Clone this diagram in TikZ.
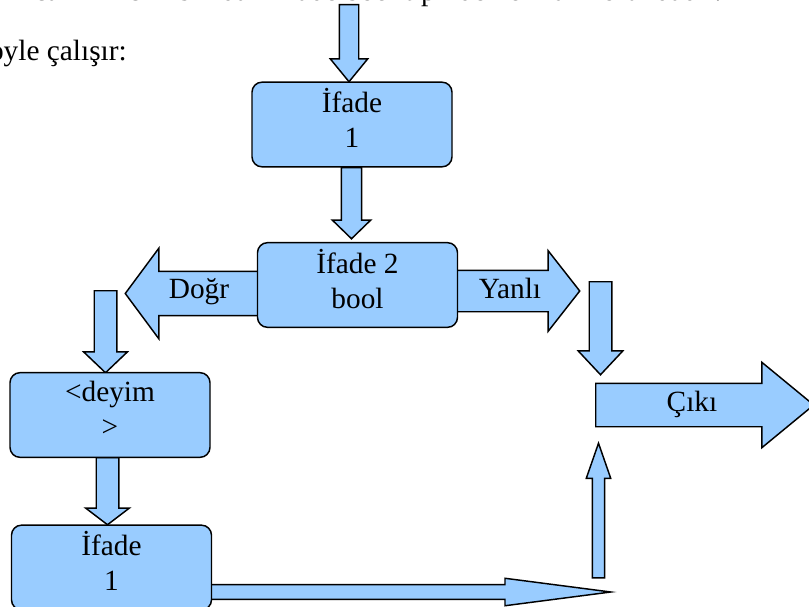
\documentclass[tikz,border=0pt]{standalone}
\usepackage{fontspec}
\setmainfont{Liberation Serif}
\usetikzlibrary{shapes.arrows}
\definecolor{boxBlue}{RGB}{153,204,255}
\newcommand{\lowr}{\rule[-9.5pt]{0pt}{0pt}}

\begin{document}
\begin{tikzpicture}[
  x=0.75pt, y=-0.75pt,
  every node/.style={font=\fontsize{22}{26.25}\selectfont},
  box/.style={rectangle, draw, fill=boxBlue, line width=1.1pt, rounded corners=7.5pt,
              minimum width=150pt, minimum height=63.5pt, align=center, inner sep=0pt},
  fat/.style={single arrow, draw, fill=boxBlue, line width=1.1pt, anchor=tail},
  lbl/.style={anchor=base, inner sep=0pt},
]
\useasboundingbox (0,0) rectangle (809,606);
\clip (0,0) rectangle (809,606);

\node[anchor=base west, inner sep=0pt] (intro) at (-2,1) {Ancak ikinci kısımdaki ifade bool tipinden olmak zorundadır.};
\node[anchor=base east, inner sep=0pt] (calisir) at (127,61) {oyle çalışır:};

% block arrows first, the boxes cover their tails
\node[fat, shape border rotate=270, minimum height=57.75pt, inner sep=6.75pt,
      single arrow head extend=6.75pt, single arrow tip angle=78.6] (giris) at (349,4) {};
\node[fat, shape border rotate=270, minimum height=53.25pt, inner sep=7.1pt,
      single arrow head extend=6.75pt, single arrow tip angle=91.7] (a12) at (351.5,167) {};
\node[fat, shape border rotate=180, minimum height=108pt, inner sep=16.1pt,
      single arrow head extend=17.25pt, single arrow tip angle=106.9] (dogru) at (270,293.5) {};
\node[fat, minimum height=100.5pt, inner sep=15pt,
      single arrow head extend=14.6pt, single arrow tip angle=103.8] (yanlis) at (445,291) {};
\node[fat, shape border rotate=270, minimum height=61.5pt, inner sep=7.9pt,
      single arrow head extend=7.9pt, single arrow tip angle=92.8] (aDeyim) at (105.5,290) {};
\node[fat, shape border rotate=270, minimum height=50.25pt, inner sep=7.9pt,
      single arrow head extend=7.9pt, single arrow tip angle=105.4] (aIfade) at (107.5,457) {};
\node[fat, minimum height=307.5pt, inner sep=5.05pt,
      single arrow head extend=4.7pt, single arrow tip angle=14.8] (aAlt) at (200,592) {};
\node[fat, shape border rotate=90, minimum height=100.9pt, inner sep=4.1pt,
      single arrow head extend=4.5pt, single arrow tip angle=38.4] (aYukari) at (598.5,578.5) {};
\node[fat, shape border rotate=270, minimum height=69.75pt, inner sep=7.9pt,
      single arrow head extend=8.25pt, single arrow tip angle=86.2] (aSag) at (600.5,281) {};
\node[fat, minimum height=163.5pt, inner sep=15.75pt,
      single arrow head extend=15.75pt, single arrow tip angle=78.9] (cikis) at (595,405) {};

\node[box] (ifade1) at (352,124.5) {İfade\\1\lowr};
\node[box] (ifade2) at (357.5,285) {İfade 2\\bool\lowr};
\node[box] (deyim) at (110,415) {<deyim\\>\lowr};
\node[box] (ifade1b) at (111.5,567.5) {İfade\\1\lowr};

\node[lbl] (dogruLbl) at (199,298) {Doğr};
\node[lbl] (yanlisLbl) at (510,298) {Yanlı};
\node[lbl] (cikisLbl) at (692,411) {Çıkı};
\end{tikzpicture}
\end{document}
